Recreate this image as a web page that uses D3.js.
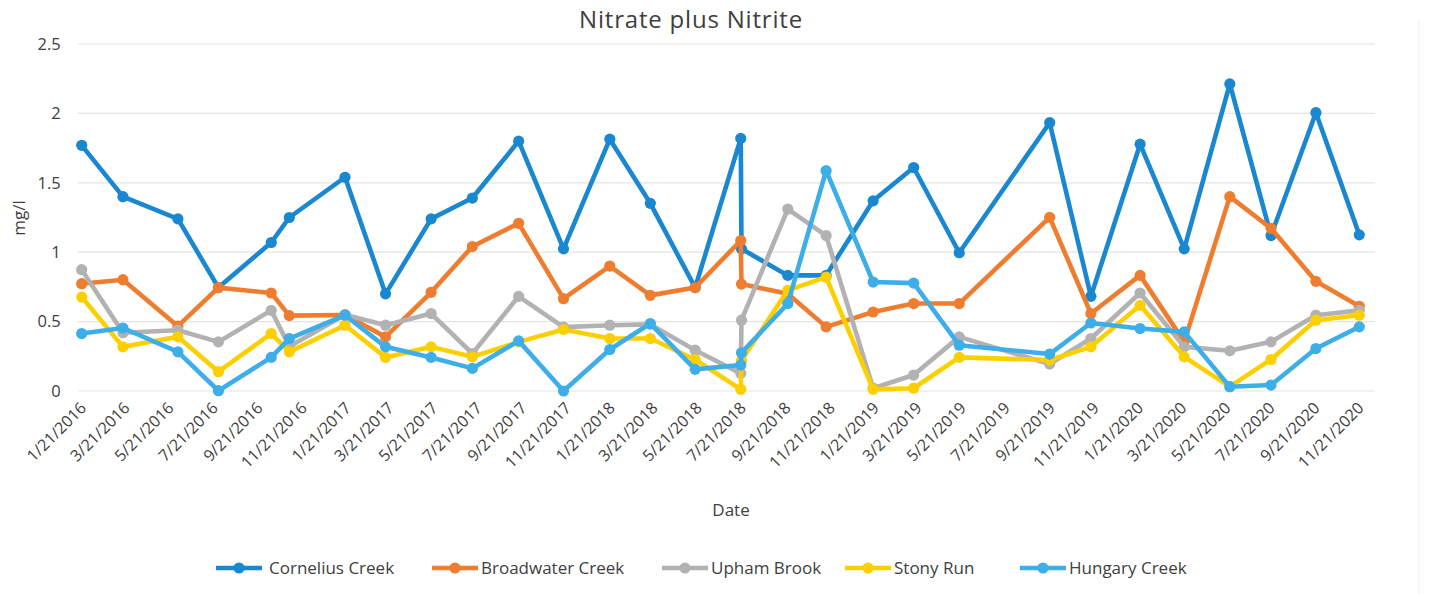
<!DOCTYPE html>
<html>
<head>
<meta charset="utf-8">
<script src="https://cdn.jsdelivr.net/npm/d3@7"></script>
<style>
	body { margin: 0; background: #fff; }
	svg text { font-family: "Open Sans", sans-serif; fill: #404040; }
</style>
</head>
<body>
<div id="chart"></div>
<script>
const dates = ['1/21/2016', '3/18/2016', '6/2/2016', '7/28/2016', '10/9/2016', '11/3/2016',
	'1/19/2017', '3/16/2017', '5/18/2017', '7/14/2017', '9/16/2017', '11/17/2017',
	'1/20/2018', '3/17/2018', '5/18/2018', '7/20/2018', '7/21/2018', '9/23/2018', '11/15/2018',
	'1/19/2019', '3/16/2019', '5/18/2019', '9/20/2019', '11/16/2019',
	'1/23/2020', '3/24/2020', '5/26/2020', '7/22/2020', '9/22/2020', '11/21/2020'];

const cornelius = [1.77, 1.40, 1.24, 0.745, 1.07, 1.25, 1.54, 0.70, 1.24, 1.39, 1.80, 1.024,
	1.814, 1.352, 0.745, 1.82, 1.024, 0.833, 0.833, 1.37, 1.61, 0.996, 1.933, 0.682,
	1.778, 1.024, 2.213, 1.12, 2.005, 1.125];
const broadwater = [0.773, 0.802, 0.467, 0.745, 0.706, 0.543, 0.548, 0.39, 0.711, 1.041, 1.208, 0.665,
	0.90, 0.689, 0.745, 1.084, 0.77, 0.70, 0.462, 0.569, 0.63, 0.63, 1.251, 0.558,
	0.833, 0.354, 1.40, 1.172, 0.79, 0.61];
const upham = [0.874, 0.42, 0.438, 0.354, 0.581, 0.32, 0.55, 0.474, 0.558, 0.27, 0.682, 0.46,
	0.474, 0.48, 0.294, 0.127, 0.51, 1.311, 1.12, 0.02, 0.115, 0.39, 0.194, 0.378,
	0.706, 0.318, 0.29, 0.354, 0.546, 0.581];
const stonyRun = [0.677, 0.318, 0.39, 0.139, 0.414, 0.282, 0.474, 0.242, 0.318, 0.246, 0.354, 0.443,
	0.378, 0.378, 0.227, 0.012, 0.22, 0.725, 0.82, 0.012, 0.02, 0.242, 0.223, 0.318,
	0.617, 0.246, 0.031, 0.227, 0.51, 0.546];
const hungary = [0.414, 0.454, 0.282, 0.002, 0.242, 0.378, 0.546, 0.318, 0.242, 0.163, 0.361, 0.0,
	0.299, 0.486, 0.156, 0.187, 0.275, 0.63, 1.587, 0.785, 0.777, 0.33, 0.266, 0.49,
	0.45, 0.426, 0.031, 0.043, 0.306, 0.462];

const seriesNames = ['Cornelius Creek', 'Broadwater Creek', 'Upham Brook', 'Stony Run', 'Hungary Creek'];
const seriesColors = ['#1a87d1', '#ef7d2f', '#b2b2b4', '#fcd000', '#3daee8'];

const tickLabels = ['1/21/2016', '3/21/2016', '5/21/2016', '7/21/2016', '9/21/2016', '11/21/2016',
	'1/21/2017', '3/21/2017', '5/21/2017', '7/21/2017', '9/21/2017', '11/21/2017',
	'1/21/2018', '3/21/2018', '5/21/2018', '7/21/2018', '9/21/2018', '11/21/2018',
	'1/21/2019', '3/21/2019', '5/21/2019', '7/21/2019', '9/21/2019', '11/21/2019',
	'1/21/2020', '3/21/2020', '5/21/2020', '7/21/2020', '9/21/2020', '11/21/2020'];
const yTicks = [0, 0.5, 1, 1.5, 2, 2.5];

const width = 1430, height = 594;
const plot = {left: 81.7, right: 1359.3, top: 44, bottom: 391, gridLeft: 78, gridRight: 1375};

const parseDate = d3.timeParse('%m/%d/%Y');
const dateValues = dates.map(parseDate);
const tickDates = tickLabels.map(parseDate);

const series = [cornelius, broadwater, upham, stonyRun, hungary].map((vals, i) => ({
	name: seriesNames[i],
	color: seriesColors[i],
	points: vals.map((v, j) => ({date: dateValues[j], value: v}))
}));

const svg = d3.select('#chart')
	.append('svg')
	.attr('width', width)
	.attr('height', height);

const xScale = d3.scaleTime()
	.domain([tickDates[0], tickDates[tickDates.length - 1]])
	.range([plot.left, plot.right]);

const yScale = d3.scaleLinear()
	.domain([0, 2.5])
	.range([plot.bottom, plot.top]);

// gridlines
svg.append('g')
	.selectAll('line')
	.data(yTicks)
	.enter()
	.append('line')
	.attr('x1', plot.gridLeft)
	.attr('x2', plot.gridRight)
	.attr('y1', d => yScale(d))
	.attr('y2', d => yScale(d))
	.attr('stroke', '#e4e4e4')
	.attr('stroke-width', 1.2);

// faint right border from the scan
svg.append('line')
	.attr('x1', 1419).attr('x2', 1419)
	.attr('y1', 20).attr('y2', 594)
	.attr('stroke', '#eeeeee');

// y axis
const yAxis = svg.append('g')
	.attr('transform', `translate(${plot.left - 18}, 0)`)
	.call(d3.axisLeft(yScale).tickValues(yTicks).tickSize(0).tickFormat(d3.format('')));
yAxis.select('.domain').remove();
yAxis.selectAll('text')
	.attr('font-size', 16.5)
	.attr('font-family', '"Open Sans", sans-serif')
	.attr('fill', '#404040');

// x axis
const xAxis = svg.append('g')
	.attr('transform', `translate(0, ${plot.bottom})`)
	.call(d3.axisBottom(xScale).tickValues(tickDates).tickSize(0).tickFormat((d, i) => tickLabels[i]));
xAxis.select('.domain').remove();
xAxis.selectAll('text')
	.attr('font-size', 16)
	.attr('font-family', '"Open Sans", sans-serif')
	.attr('fill', '#404040')
	.attr('text-anchor', 'end')
	.attr('dy', 0)
	.attr('y', 0)
	.attr('transform', 'translate(5, 18) rotate(-45)');

// lines
const line = d3.line()
	.x(d => xScale(d.date))
	.y(d => yScale(d.value));

const groups = svg.selectAll('.series')
	.data(series)
	.enter()
	.append('g')
	.attr('class', 'series');

groups.append('path')
	.attr('d', d => line(d.points))
	.attr('fill', 'none')
	.attr('stroke', d => d.color)
	.attr('stroke-width', 4.6)
	.attr('stroke-linejoin', 'round');

groups.selectAll('circle')
	.data(d => d.points.map(p => ({...p, color: d.color})))
	.enter()
	.append('circle')
	.attr('cx', d => xScale(d.date))
	.attr('cy', d => yScale(d.value))
	.attr('r', 5.6)
	.attr('fill', d => d.color);

// titles
svg.append('text')
	.attr('x', 691)
	.attr('y', 28)
	.attr('text-anchor', 'middle')
	.attr('font-size', 24)
	.attr('letter-spacing', 0.8)
	.attr('fill', '#333')
	.text('Nitrate plus Nitrite');

svg.append('text')
	.attr('transform', 'translate(25, 218) rotate(-90)')
	.attr('text-anchor', 'middle')
	.attr('font-size', 17)
	.attr('fill', '#333')
	.text('mg/l');

svg.append('text')
	.attr('x', 731)
	.attr('y', 516)
	.attr('text-anchor', 'middle')
	.attr('font-size', 17)
	.attr('fill', '#404040')
	.text('Date');

// legend
const legendX = [216, 432, 662, 845, 1020];
const legend = svg.selectAll('.legend')
	.data(series)
	.enter()
	.append('g')
	.attr('class', 'legend')
	.attr('transform', (d, i) => `translate(${legendX[i]}, 568)`);

legend.append('line')
	.attr('x1', 0).attr('x2', 46)
	.attr('stroke', d => d.color)
	.attr('stroke-width', 4.6);
legend.append('circle')
	.attr('cx', 23)
	.attr('r', 5.6)
	.attr('fill', d => d.color);
legend.append('text')
	.attr('x', (d, i) => i === 0 ? 53 : 49)
	.attr('y', 6)
	.attr('font-size', 17)
	.attr('fill', '#404040')
	.text(d => d.name);
</script>
</body>
</html>
